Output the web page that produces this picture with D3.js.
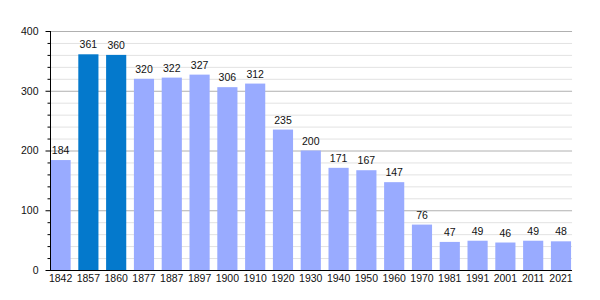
<!DOCTYPE html>
<html><head><meta charset="utf-8">
<script src="https://cdn.jsdelivr.net/npm/d3@7"></script>
<style>body{margin:0;background:#fff}svg{display:block}text{font-family:"Liberation Sans",Arial,sans-serif;font-size:10.5px;fill:#111}</style>
</head><body><svg id="c" width="600" height="300"></svg>
<script>
const years = ["1842","1857","1860","1877","1887","1897","1900","1910","1920","1930","1940","1950","1960","1970","1981","1991","2001","2011","2021"];
const population = [184,361,360,320,322,327,306,312,235,200,171,167,147,76,47,49,46,49,48];
const highlighted = ["1857","1860"];
const yTicks = [0,100,200,300,400];
const yMinor = d3.range(0,401,20);

const svg = d3.select("#c");
const x = d3.scaleBand().domain(years).range([50.5, 50.5 + 19*27.8]).padding(0);
const barW = x.bandwidth()*0.725;
const y = d3.scaleLinear().domain([0,400]).range([270,31]);
const xEnd = x(years[years.length-1]) + barW + 1;

// minor gridlines
svg.append("g").selectAll("line").data(yMinor.filter(v=>v%100!==0)).join("line")
  .attr("x1",50).attr("x2",xEnd).attr("y1",d=>y(d)+0.5).attr("y2",d=>y(d)+0.5)
  .attr("stroke","#e2e2e2").attr("stroke-width",1);
// major gridlines
svg.append("g").selectAll("line").data(yTicks.filter(v=>v>0)).join("line")
  .attr("x1",50).attr("x2",xEnd).attr("y1",d=>y(d)+0.5).attr("y2",d=>y(d)+0.5)
  .attr("stroke","#b0b0b0").attr("stroke-width",1);

// bars
svg.append("g").selectAll("rect").data(years).join("rect")
  .attr("x",d=>x(d)).attr("width",barW)
  .attr("y",(d,i)=>y(population[i])).attr("height",(d,i)=>y(0)-y(population[i]))
  .attr("fill",d=>highlighted.includes(d)?"#0479cc":"#99abff");

// value labels
svg.append("g").selectAll("text").data(years).join("text")
  .attr("x",d=>x(d)+barW/2).attr("y",(d,i)=>y(population[i])-6)
  .attr("text-anchor","middle").text((d,i)=>population[i]);

// y axis
const yAxis = d3.axisLeft(y).tickValues(yTicks).tickSize(5).tickPadding(7);
const ga = svg.append("g").attr("transform","translate(50.5,0)").call(yAxis);
ga.select(".domain").attr("d","M0,"+y(400)+"V"+y(0)).attr("stroke","#000");
ga.selectAll(".tick line").attr("stroke","#000");
ga.selectAll(".tick text").attr("font-size",null).attr("font-family",null).style("fill","#111");
svg.append("g").attr("transform","translate(50.5,0)").selectAll("line")
  .data(yMinor.filter(v=>v%100!==0)).join("line")
  .attr("x1",-3).attr("x2",0).attr("y1",d=>y(d)+0.5).attr("y2",d=>y(d)+0.5).attr("stroke","#000");

// x axis
svg.append("line").attr("x1",50).attr("x2",xEnd).attr("y1",y(0)+0.5).attr("y2",y(0)+0.5).attr("stroke","#000");
svg.append("g").selectAll("text").data(years).join("text")
  .attr("x",d=>x(d)+barW/2).attr("y",282).attr("text-anchor","middle").text(d=>d);
</script></body></html>
